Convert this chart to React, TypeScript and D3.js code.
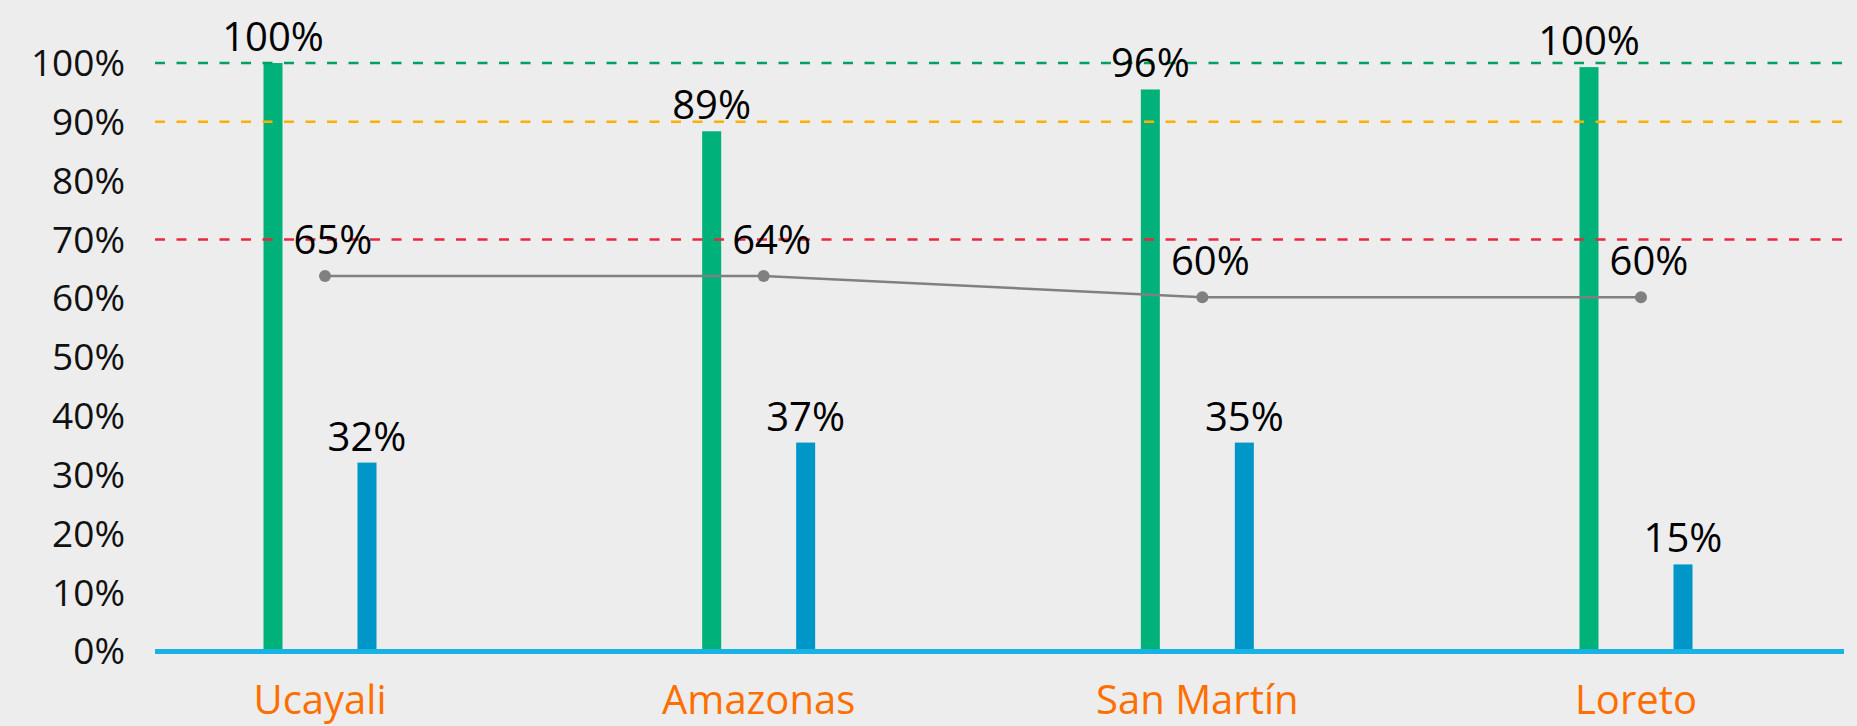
import React from "react";
import * as d3 from "d3";

const categories = ["Ucayali", "Amazonas", "San Martín", "Loreto"];
const greenValues = [100, 88.4, 95.5, 99.3];
const greenLabels = [100, 89, 96, 100];
const blueValues = [32.1, 35.5, 35.5, 14.8];
const blueLabels = [32, 37, 35, 15];
const lineValues = [63.8, 63.8, 60.2, 60.2];
const lineLabels = [65, 64, 60, 60];
const yTicks = [0, 10, 20, 30, 40, 50, 60, 70, 80, 90, 100];
const thresholds = [
  { value: 100, color: "#00A060" },
  { value: 90, color: "#FFB000" },
  { value: 70, color: "#E8283F" },
];

const W = 1857;
const H = 726;
const plotLeft = 155;
const plotRight = 1844;
const FONT = "'Open Sans', 'Noto Sans', sans-serif";

export default function App() {
  const x = d3.scalePoint<string>().domain(categories).range([320, 1636]);
  const y = d3.scaleLinear().domain([0, 100]).range([651.5, 63]);
  const barW = 19;
  const greenOff = -47;
  const blueOff = 47;
  const lineOff = 5;

  const pts = categories.map((c, i) => [x(c)! + lineOff, y(lineValues[i])] as [number, number]);
  const linePath = d3.line()(pts) || "";

  return (
    <svg
      width={W}
      height={H}
      style={{ position: "absolute", left: 0, top: 0, display: "block" }}
      fontFamily={FONT}
    >
      <rect x={0} y={0} width={W} height={H} fill="#EDEDED" />

      {yTicks.map((t) => (
        <text key={t} x={125} y={y(t)} dy="0.35em" textAnchor="end" fontSize={37} fill="#111">
          {`${t}%`}
        </text>
      ))}

      {categories.map((c, i) => (
        <rect
          key={"g" + c}
          x={x(c)! + greenOff - barW / 2}
          y={y(greenValues[i])}
          width={barW}
          height={y(0) - y(greenValues[i])}
          fill="#00B27A"
        />
      ))}
      {categories.map((c, i) => (
        <rect
          key={"b" + c}
          x={x(c)! + blueOff - barW / 2}
          y={y(blueValues[i])}
          width={barW}
          height={y(0) - y(blueValues[i])}
          fill="#0096C8"
        />
      ))}

      {thresholds.map((t) => (
        <line
          key={t.value}
          x1={plotLeft}
          x2={plotRight}
          y1={y(t.value)}
          y2={y(t.value)}
          stroke={t.color}
          strokeWidth={2.5}
          strokeDasharray="10,11.5"
        />
      ))}

      <line x1={plotLeft} x2={plotRight} y1={y(0)} y2={y(0)} stroke="#19B2E4" strokeWidth={5} />

      <path d={linePath} fill="none" stroke="#808080" strokeWidth={2.5} />
      {pts.map((p, i) => (
        <circle key={"p" + i} cx={p[0]} cy={p[1]} r={6} fill="#808080" />
      ))}

      {categories.map((c, i) => (
        <text
          key={"gl" + c}
          x={x(c)! + greenOff}
          y={y(greenValues[i]) - 12}
          textAnchor="middle"
          fontSize={40}
          fill="#000"
        >
          {`${greenLabels[i]}%`}
        </text>
      ))}
      {categories.map((c, i) => (
        <text
          key={"bl" + c}
          x={x(c)! + blueOff}
          y={y(blueValues[i]) - 12}
          textAnchor="middle"
          fontSize={40}
          fill="#000"
        >
          {`${blueLabels[i]}%`}
        </text>
      ))}
      {categories.map((c, i) => (
        <text
          key={"ll" + c}
          x={pts[i][0] + 8}
          y={pts[i][1] - 22}
          textAnchor="middle"
          fontSize={40}
          fill="#000"
        >
          {`${lineLabels[i]}%`}
        </text>
      ))}

      {categories.map((c) => (
        <text key={"c" + c} x={x(c)!} y={714} textAnchor="middle" fontSize={40} fill="#FF6F00">
          {c}
        </text>
      ))}
    </svg>
  );
}
